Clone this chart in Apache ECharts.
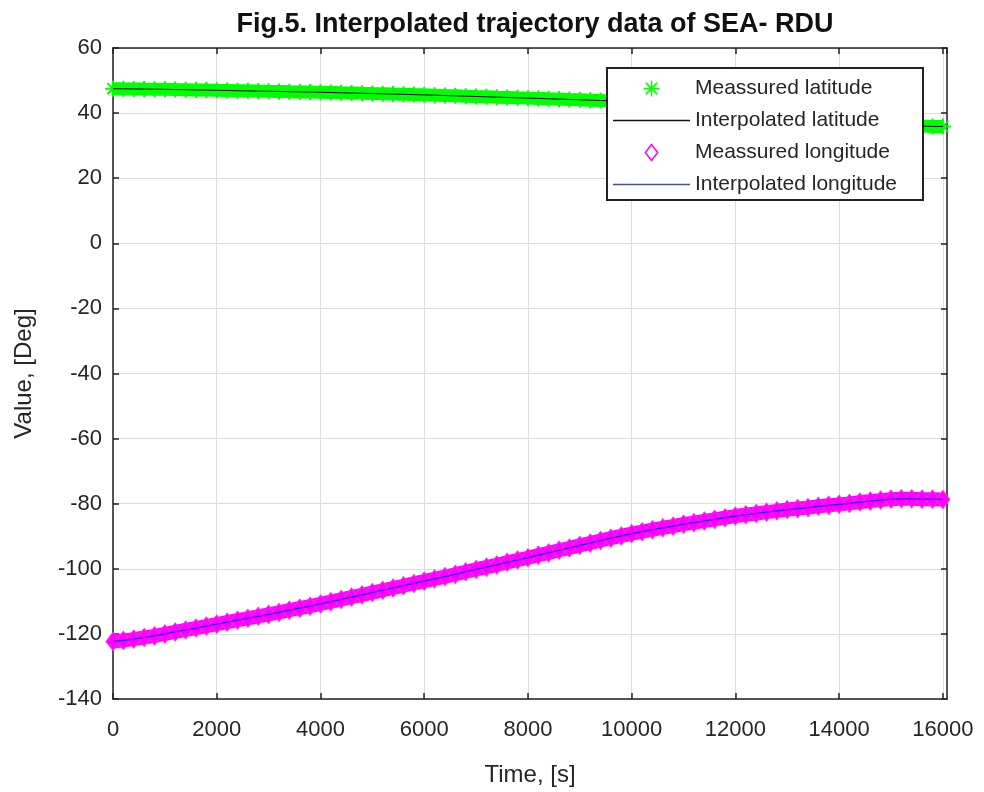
<!DOCTYPE html>
<html>
<head>
<meta charset="utf-8">
<script src="https://cdn.jsdelivr.net/npm/echarts@6/dist/echarts.min.js"></script>
<style>
  html, body { margin: 0; padding: 0; background: #fff; }
  #root { width: 984px; height: 792px; }
</style>
</head>
<body>
<div id="root"></div>
<script>
// time stamps, seconds
const times = [
  0, 200, 400, 600, 800, 1000, 1200, 1400, 1600, 1800,
  2000, 2200, 2400, 2600, 2800, 3000, 3200, 3400, 3600, 3800,
  4000, 4200, 4400, 4600, 4800, 5000, 5200, 5400, 5600, 5800,
  6000, 6200, 6400, 6600, 6800, 7000, 7200, 7400, 7600, 7800,
  8000, 8200, 8400, 8600, 8800, 9000, 9200, 9400, 9600, 9800,
  10000, 10200, 10400, 10600, 10800, 11000, 11200, 11400, 11600, 11800,
  12000, 12200, 12400, 12600, 12800, 13000, 13200, 13400, 13600, 13800,
  14000, 14200, 14400, 14600, 14800, 15000, 15200, 15400, 15600, 15800,
  16000
];
// latitude
const latitude = [
  47.5, 47.46, 47.43, 47.38, 47.35, 47.3, 47.24, 47.19, 47.12, 47.07,
  47.0, 46.95, 46.88, 46.83, 46.76, 46.7, 46.65, 46.58, 46.52, 46.47,
  46.4, 46.33, 46.24, 46.17, 46.08, 46.0, 45.93, 45.84, 45.77, 45.68,
  45.6, 45.51, 45.4, 45.31, 45.2, 45.1, 45.01, 44.9, 44.81, 44.7,
  44.6, 44.51, 44.4, 44.31, 44.2, 44.1, 43.98, 43.87, 43.74, 43.63,
  43.5, 43.35, 43.18, 43.03, 42.86, 42.7, 42.51, 42.3, 42.11, 41.9,
  41.7, 41.47, 41.22, 40.99, 40.74, 40.5, 40.21, 39.9, 39.61, 39.3,
  39.0, 38.65, 38.28, 37.93, 37.56, 37.2, 36.81, 36.4, 36.02, 35.9,
  35.88
];
// longitude
const longitude = [
  -122.3, -122.0, -121.6, -121.1, -120.6, -120.0, -119.4, -118.8, -118.2, -117.6,
  -117.0, -116.4, -115.8, -115.2, -114.6, -114.0, -113.4, -112.7, -112.1, -111.5,
  -110.8, -110.1, -109.4, -108.7, -108.0, -107.3, -106.6, -105.9, -105.2, -104.5,
  -103.8, -103.1, -102.4, -101.7, -100.9, -100.2, -99.5, -98.8, -98.0, -97.3,
  -96.6, -95.8, -95.1, -94.3, -93.6, -92.8, -92.1, -91.3, -90.6, -89.9,
  -89.2, -88.6, -88.0, -87.4, -86.9, -86.3, -85.8, -85.3, -84.8, -84.3,
  -83.8, -83.4, -83.0, -82.6, -82.2, -81.8, -81.5, -81.2, -80.8, -80.5,
  -80.2, -79.9, -79.5, -79.2, -78.9, -78.6, -78.5, -78.5, -78.6, -78.6,
  -78.7
];
const seriesNames = ['Meassured latitude', 'Interpolated latitude', 'Meassured longitude', 'Interpolated longitude'];

const latPairs = times.map((t, i) => [t, latitude[i]]);
const lonPairs = times.map((t, i) => [t, longitude[i]]);

const asterisk = 'path://M5,0L5,10M0,5L10,5M1.5,1.5L8.5,8.5M1.5,8.5L8.5,1.5';
const diamondIcon = 'path://M5,0L10,6.5L5,13L0,6.5Z';
const lineIcon = 'path://M0,0L77,0L77,1.3L0,1.3Z';
const font = 'Liberation Sans, Arial, sans-serif';
const txt = '#262626';

let myChart = echarts.init(document.getElementById('root'));

const xBase = { type: 'value', min: 0, max: 16080, interval: 2000 };
const yBase = { type: 'value', min: -140, max: 60, interval: 20 };
const edge = { lineStyle: { color: '#222', width: 1.5 } };
const ticks = { inside: true, length: 6, lineStyle: { color: '#222', width: 1.5 } };

let option = {
  animation: false,
  title: {
    text: 'Fig.5. Interpolated trajectory data of SEA- RDU',
    left: 530, top: 6, textAlign: 'center',
    textStyle: { fontFamily: font, fontSize: 27, fontWeight: 'bold', color: '#111' }
  },
  grid: { left: 113, right: 37, top: 48, bottom: 87 },
  legend: {
    orient: 'vertical', left: 607, top: 68, z: 10,
    padding: [10, 26, 5, 6], itemGap: 11, itemWidth: 77, itemHeight: 16,
    backgroundColor: '#fff', borderColor: '#222', borderWidth: 2,
    textStyle: { fontFamily: font, fontSize: 21, lineHeight: 20, color: txt },
    data: [
      { name: seriesNames[0], icon: asterisk, itemStyle: { color: 'transparent', borderColor: '#00ff00', borderWidth: 1.5 } },
      { name: seriesNames[1], icon: lineIcon, itemStyle: { color: '#111', borderWidth: 0 } },
      { name: seriesNames[2], icon: diamondIcon, itemStyle: { color: 'transparent', borderColor: '#ff00ff', borderWidth: 1.5 } },
      { name: seriesNames[3], icon: lineIcon, itemStyle: { color: '#4a4ab8', borderWidth: 0 } }
    ]
  },
  xAxis: [
    Object.assign({}, xBase, {
      name: 'Time, [s]', nameLocation: 'middle', nameGap: 64,
      nameTextStyle: { fontFamily: font, fontSize: 24, color: txt },
      axisLine: Object.assign({ onZero: false }, edge),
      axisTick: ticks,
      axisLabel: { margin: 20, fontFamily: font, fontSize: 22, color: txt, showMaxLabel: false,
        formatter: v => String(v) },
      splitLine: { lineStyle: { color: '#dcdcdc', width: 1 } }
    }),
    Object.assign({}, xBase, {
      position: 'top',
      axisLine: Object.assign({ onZero: false }, edge),
      axisTick: ticks,
      axisLabel: { show: false }, splitLine: { show: false }
    })
  ],
  yAxis: [
    Object.assign({}, yBase, {
      name: 'Value, [Deg]', nameLocation: 'middle', nameGap: 77,
      nameTextStyle: { fontFamily: font, fontSize: 24, color: txt },
      axisLine: Object.assign({ onZero: false }, edge),
      axisTick: ticks,
      axisLabel: { margin: 11, fontFamily: font, fontSize: 22, color: txt },
      splitLine: { lineStyle: { color: '#dcdcdc', width: 1 } }
    }),
    Object.assign({}, yBase, {
      position: 'right',
      axisLine: Object.assign({ onZero: false }, edge),
      axisTick: ticks,
      axisLabel: { show: false }, splitLine: { show: false }
    })
  ],
  series: [
    {
      name: seriesNames[0], type: 'line', data: latPairs,
      symbol: asterisk, symbolSize: 16, showSymbol: true,
      lineStyle: { color: '#00ff00', width: 13 },
      itemStyle: { color: '#00ff00', borderColor: '#00ff00', borderWidth: 2 },
      z: 2
    },
    {
      name: seriesNames[1], type: 'line', data: latPairs, symbol: 'none',
      lineStyle: { color: '#000', width: 1 }, itemStyle: { color: '#000' }, z: 3
    },
    {
      name: seriesNames[2], type: 'line', data: lonPairs,
      symbol: 'diamond', symbolSize: [14, 18], showSymbol: true,
      lineStyle: { color: '#ff00ff', width: 14 },
      itemStyle: { color: '#ff00ff', borderColor: '#ff22ff', borderWidth: 1 },
      z: 2
    },
    {
      name: seriesNames[3], type: 'line', data: lonPairs, symbol: 'none',
      lineStyle: { color: '#2a1aff', width: 1.2 }, itemStyle: { color: '#2a1aff' }, z: 3
    }
  ]
};
myChart.setOption(option);
</script>
</body>
</html>
